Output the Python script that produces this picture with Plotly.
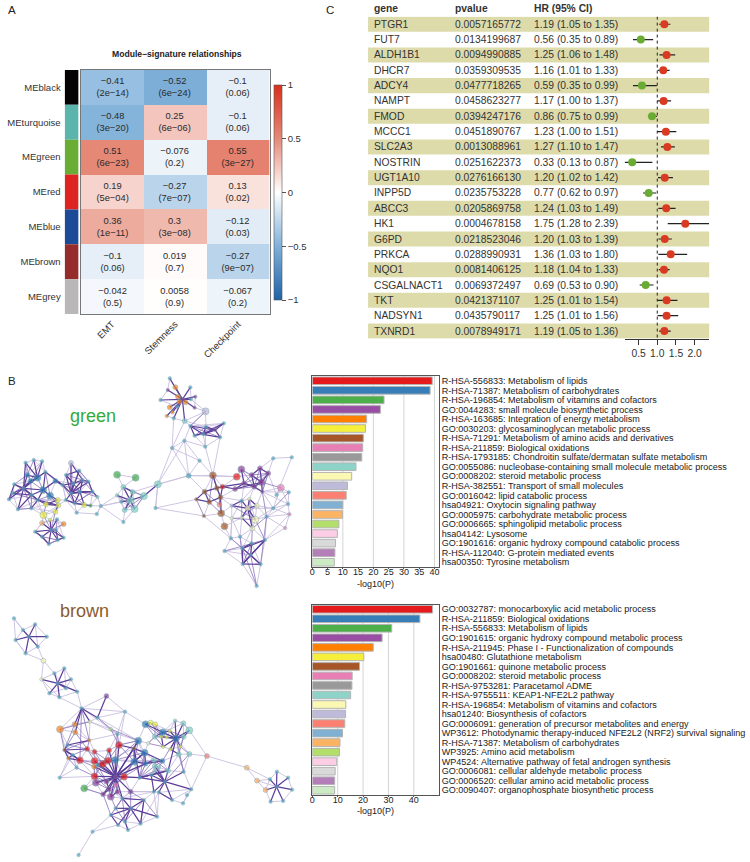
"""Composite figure: module heatmap, Cox forest table, enrichment networks and bars."""
import plotly.graph_objects as go

WIDTH = 750
HEIGHT = 862
FONT = "Liberation Sans"

# ---- panel A
modules = ["MEblack", "MEturquoise", "MEgreen", "MEred", "MEblue", "MEbrown", "MEgrey"]
module_colors = ["#060304", "#5bb5ad", "#69ad34", "#de2420", "#1b4a96", "#952c2b", "#b9b7b8"]
signatures = ["EMT", "Stemness", "Checkpoint"]
corr = [
    [-0.41, -0.52, -0.1],
    [-0.48, 0.25, -0.1],
    [0.51, -0.076, 0.55],
    [0.19, -0.27, 0.13],
    [0.36, 0.3, -0.12],
    [-0.1, 0.019, -0.27],
    [-0.042, 0.0058, -0.067],
]
corr_p = [
    ["2e-14", "6e-24", "0.06"],
    ["3e-20", "6e-06", "0.06"],
    ["6e-23", "0.2", "3e-27"],
    ["5e-04", "7e-07", "0.02"],
    ["1e-11", "3e-08", "0.03"],
    ["0.06", "0.7", "9e-07"],
    ["0.5", "0.9", "0.2"],
]
corr_scale = [
    [0, "#1f62a8"], [0.25, "#80b1da"], [0.5, "#ffffff"], [0.75, "#e68a78"], [1, "#d8301c"],
]
cbar_vals = [1, 0.5, 0, -0.5, -1]
cbar_text = ["1", "0.5", "0", "\u22120.5", "\u22121"]

# ---- panel C
genes = ["PTGR1", "FUT7", "ALDH1B1", "DHCR7", "ADCY4", "NAMPT", "FMOD", "MCCC1", "SLC2A3", "NOSTRIN",
         "UGT1A10", "INPP5D", "ABCC3", "HK1", "G6PD", "PRKCA", "NQO1", "CSGALNACT1", "TKT", "NADSYN1", "TXNRD1"]
pvalues = ["0.0057165772", "0.0134199687", "0.0094990885", "0.0359309535", "0.0477718265", "0.0458623277",
           "0.0394247176", "0.0451890767", "0.0013088961", "0.0251622373", "0.0276166130", "0.0235753228",
           "0.0205869758", "0.0004678158", "0.0218523046", "0.0288990931", "0.0081406125", "0.0069372497",
           "0.0421371107", "0.0435790117", "0.0078949171"]
hr = [1.19, 0.56, 1.25, 1.16, 0.59, 1.17, 0.86, 1.23, 1.27, 0.33, 1.20,
      0.77, 1.24, 1.75, 1.20, 1.36, 1.18, 0.69, 1.25, 1.25, 1.19]
hr_lo = [1.05, 0.35, 1.06, 1.01, 0.35, 1.00, 0.75, 1.00, 1.10, 0.13, 1.02,
         0.62, 1.03, 1.28, 1.03, 1.03, 1.04, 0.53, 1.01, 1.01, 1.05]
hr_hi = [1.35, 0.89, 1.48, 1.33, 0.99, 1.37, 0.99, 1.51, 1.47, 0.87, 1.42,
         0.97, 1.49, 2.39, 1.39, 1.80, 1.33, 0.90, 1.54, 1.56, 1.36]

# ---- panel B, bar charts
bar_colors = ["#e41a1c", "#377eb8", "#4daf4a", "#984ea3", "#ff7f00", "#f5ee3a", "#a65628", "#e77fb5", "#999999",
              "#8dd3c7", "#fbf8b3", "#bebada", "#fb8072", "#80b1d3", "#fdb462", "#b3de69", "#fccde5", "#d9d9d9",
              "#b47fb8", "#ccebc5"]
green_terms = [
    "R-HSA-556833: Metabolism of lipids",
    "R-HSA-71387: Metabolism of carbohydrates",
    "R-HSA-196854: Metabolism of vitamins and cofactors",
    "GO:0044283: small molecule biosynthetic process",
    "R-HSA-163685: Integration of energy metabolism",
    "GO:0030203: glycosaminoglycan metabolic process",
    "R-HSA-71291: Metabolism of amino acids and derivatives",
    "R-HSA-211859: Biological oxidations",
    "R-HSA-1793185: Chondroitin sulfate/dermatan sulfate metabolism",
    "GO:0055086: nucleobase-containing small molecule metabolic process",
    "GO:0008202: steroid metabolic process",
    "R-HSA-382551: Transport of small molecules",
    "GO:0016042: lipid catabolic process",
    "hsa04921: Oxytocin signaling pathway",
    "GO:0005975: carbohydrate metabolic process",
    "GO:0006665: sphingolipid metabolic process",
    "hsa04142: Lysosome",
    "GO:1901616: organic hydroxy compound catabolic process",
    "R-HSA-112040: G-protein mediated events",
    "hsa00350: Tyrosine metabolism",
]
green_logp = [39.3, 38.6, 23.5, 22.3, 17.8, 17.4, 16.7, 16.5, 16.2, 14.3,
              12.9, 11.5, 11.1, 10.0, 9.9, 8.7, 8.2, 7.6, 7.4, 7.2]
brown_terms = [
    "GO:0032787: monocarboxylic acid metabolic process",
    "R-HSA-211859: Biological oxidations",
    "R-HSA-556833: Metabolism of lipids",
    "GO:1901615: organic hydroxy compound metabolic process",
    "R-HSA-211945: Phase I - Functionalization of compounds",
    "hsa00480: Glutathione metabolism",
    "GO:1901661: quinone metabolic process",
    "GO:0008202: steroid metabolic process",
    "R-HSA-9753281: Paracetamol ADME",
    "R-HSA-9755511: KEAP1-NFE2L2 pathway",
    "R-HSA-196854: Metabolism of vitamins and cofactors",
    "hsa01240: Biosynthesis of cofactors",
    "GO:0006091: generation of precursor metabolites and energy",
    "WP3612: Photodynamic therapy-induced NFE2L2 (NRF2) survival signaling",
    "R-HSA-71387: Metabolism of carbohydrates",
    "WP3925: Amino acid metabolism",
    "WP4524: Alternative pathway of fetal androgen synthesis",
    "GO:0006081: cellular aldehyde metabolic process",
    "GO:0006520: cellular amino acid metabolic process",
    "GO:0090407: organophosphate biosynthetic process",
]
brown_logp = [47.4, 42.4, 31.3, 27.5, 24.0, 20.3, 18.6, 15.7, 15.6, 15.1,
              13.2, 13.1, 12.8, 11.9, 10.9, 10.7, 9.6, 9.0, 8.8, 8.8]

# ---- panel B, networks (layout units)
node_palette = {"r": "#e41a1c", "b": "#2f7db5", "g": "#3fa648", "p": "#8f3f98", "o": "#f5831f", "y": "#f3ee38",
                "n": "#a65628", "k": "#e77fb5", "t": "#7fcfc3", "l": "#f7f5ae", "v": "#b9b5d8", "s": "#f47f70",
                "q": "#f9ad5e", "h": "#b3de69"}
default_node = "#4ea5bf"

green_x = [503, 520, 565, 497, 528, 475, 532, 551, 567, 580,
           503, 511, 494, 525, 515, 578, 548, 611, 565, 578,
           612, 666, 604, 655, 610, 547, 510, 593, 560, 541,
           640, 68, 93, 118, 73, 104, 128, 83, 158, 34,
           121, 142, 62, 18, 45, 30, 86, 105, 130, 165,
           167, 85, 158, 122, 142, 118, 163, 183, 97, 160,
           145, 183, 165, 138, 118, 205, 190, 230, 258, 240,
           212, 180, 205, 232, 270, 285, 245, 264, 222, 283,
           295, 190, 216, 344, 400, 363, 391, 344, 384, 425,
           357, 367, 397, 363, 467, 460, 633, 645, 662, 705,
           719, 700, 727, 750, 775, 800, 758, 780, 782, 838,
           815, 871, 862, 864, 851, 608, 583, 622, 656, 653,
           658, 606, 668, 690, 743, 738, 765, 720, 720, 761,
           752, 690, 815, 795, 860, 790, 750, 687, 668, 722,
           747, 723, 777, 765, 715, 825]
green_y = [115, 142, 142, 150, 170, 180, 185, 187, 178, 170,
           202, 217, 228, 200, 235, 203, 243, 214, 258, 287,
           260, 250, 283, 292, 320, 302, 324, 362, 407, 178,
           270, 368, 360, 364, 405, 413, 396, 423, 423, 433,
           450, 467, 445, 478, 508, 460, 465, 480, 493, 480,
           496, 505, 515, 525, 540, 549, 538, 552, 575, 570,
           570, 593, 600, 612, 590, 369, 405, 392, 425, 420,
           430, 435, 460, 455, 455, 471, 495, 497, 518, 522,
           498, 480, 490, 404, 413, 441, 456, 466, 481, 468,
           485, 510, 507, 546, 433, 504, 406, 444, 440, 410,
           388, 447, 430, 405, 385, 400, 440, 427, 455, 443,
           355, 352, 457, 523, 564, 455, 478, 486, 472, 494,
           520, 528, 559, 497, 477, 505, 497, 482, 533, 539,
           565, 535, 505, 530, 492, 600, 610, 595, 633, 625,
           645, 672, 673, 738, 590, 465]
green_groups = {
    "o": [1, 4, 6, 7, 10, 11, 12, 57], "p": [3, 9, 15, 29, 30, 100, 101, 102, 103, 104, 105, 106, 107, 108],
    "b": [34, 35, 37, 38, 40, 41], "y": [48, 49, 50, 52, 53, 54, 76], "q": [55], "v": [17, 65, 123],
    "g": [83, 84, 77], "t": [16, 85, 86, 87, 88, 89, 91, 92, 94, 75],
    "n": [96, 97, 115, 116, 117, 118, 120, 121, 122], "r": [98, 99], "k": [109, 113, 114], "s": [119],
    "l": [124, 125, 126, 128, 129, 130, 131],
}
green_medium = [1, 4, 6, 7, 10, 16, 28, 34, 37, 38, 48, 49, 50, 52, 55, 57, 65, 76, 85, 86, 91,
                97, 98, 101, 102, 103, 104, 105, 106, 115, 117, 118, 119, 125, 126, 130]
green_large = [17, 35, 40, 41, 53, 83, 84, 88, 89, 92, 94, 96, 99, 100, 107, 109, 120, 122, 129]
green_dark = [(29, 0), (29, 1), (29, 2), (29, 3), (29, 4), (29, 5), (29, 6), (29, 7), (29, 8), (29, 9), (29, 10),
              (29, 11), (29, 12), (29, 13), (29, 14), (29, 15), (29, 16), (30, 18), (30, 20), (30, 21), (30, 22),
              (30, 23), (30, 19), (18, 22), (32, 35), (33, 35), (31, 35), (36, 35), (37, 42), (35, 42), (42, 39),
              (42, 43), (42, 45), (42, 44), (42, 46), (40, 42), (40, 47), (47, 46), (47, 48), (40, 36), (40, 38),
              (48, 49), (47, 50), (50, 52), (60, 58), (60, 59), (60, 61), (60, 62), (60, 63), (60, 64), (60, 56),
              (60, 54), (72, 65), (72, 66), (72, 67), (72, 69), (72, 70), (72, 71), (72, 73), (72, 74), (72, 81),
              (72, 82), (72, 68), (74, 75), (73, 76), (82, 77), (71, 38), (71, 36), (88, 85), (88, 86), (88, 87),
              (88, 89), (88, 91), (88, 92), (88, 90), (86, 85), (98, 101), (101, 102), (102, 106), (106, 107),
              (107, 104), (107, 105), (106, 103), (103, 104), (97, 98), (97, 115), (118, 98), (115, 116), (115, 117),
              (117, 118), (101, 107), (107, 108), (125, 124), (125, 127), (125, 126), (125, 128), (125, 123),
              (125, 130), (125, 129), (141, 140), (141, 139), (141, 142), (140, 136), (140, 135), (94, 89),
              (42, 34), (42, 37), (42, 31), (42, 47), (35, 37), (35, 34), (46, 40), (40, 41), (41, 49), (43, 39),
              (45, 46), (44, 46), (51, 47), (50, 48), (60, 55), (59, 62), (61, 62), (63, 64), (58, 64),
              (70, 66), (70, 69), (70, 71), (73, 69), (73, 74), (73, 82), (81, 82), (66, 67), (68, 69), (74, 68),
              (65, 69), (106, 102), (103, 107), (105, 104), (108, 106), (100, 102), (98, 102), (118, 119), (116, 117),
              (118, 120), (97, 118), (97, 96), (126, 124), (127, 123), (128, 130), (141, 135), (136, 139), (140, 142),
              (139, 142), (135, 139), (20, 22), (22, 23), (18, 19), (21, 22)]
green_light = [(16, 17), (17, 20), (18, 17), (16, 18), (18, 20), (20, 21), (21, 23), (20, 24), (22, 24), (23, 24),
               (25, 18), (25, 26), (25, 27), (25, 24), (26, 27), (27, 28), (26, 28), (25, 28), (16, 26), (14, 26),
               (5, 13), (12, 14), (14, 16), (24, 96), (27, 96), (23, 96), (26, 94), (28, 94), (25, 94), (28, 96),
               (94, 95), (28, 115), (28, 99), (31, 32), (32, 33), (33, 36), (31, 34), (34, 35), (34, 37), (37, 39),
               (39, 45), (45, 43), (43, 44), (44, 51), (51, 46), (46, 47), (36, 38), (38, 41), (41, 40), (41, 48),
               (41, 49), (49, 50), (50, 53), (53, 52), (52, 54), (54, 55), (55, 56), (56, 57), (53, 55), (48, 51),
               (47, 51), (51, 53), (58, 55), (58, 64), (64, 63), (63, 62), (62, 61), (61, 59), (59, 57), (57, 54),
               (38, 71), (49, 81), (50, 81), (81, 82), (82, 76), (76, 78), (76, 77), (77, 80), (78, 79), (79, 80),
               (80, 75), (75, 74), (74, 68), (68, 67), (67, 65), (65, 66), (66, 71), (69, 68), (70, 66), (69, 73),
               (73, 74), (81, 71), (80, 90), (80, 87), (80, 88), (80, 93), (91, 93), (92, 93), (92, 89), (89, 86),
               (85, 87), (87, 90), (90, 91), (83, 84), (83, 85), (84, 85), (89, 94), (86, 94), (94, 95), (94, 28),
               (95, 116), (95, 121), (96, 97), (96, 115), (96, 99), (99, 98), (99, 100), (100, 103), (104, 105),
               (105, 110), (110, 111), (110, 104), (111, 145), (105, 145), (145, 109), (109, 112), (112, 134),
               (134, 113), (113, 114), (114, 133), (133, 132), (132, 134), (132, 109), (108, 109), (108, 132),
               (108, 126), (126, 129), (129, 133), (129, 130), (130, 135), (133, 135), (135, 142), (142, 141),
               (135, 136), (136, 139), (139, 144), (144, 137), (137, 138), (138, 141), (141, 143), (142, 143),
               (138, 139), (137, 131), (131, 128), (128, 122), (122, 120), (120, 119), (119, 118), (118, 123),
               (123, 127), (127, 124), (124, 126), (121, 120), (121, 137), (121, 117), (116, 117), (120, 131),
               (122, 137), (130, 144), (144, 136), (136, 140), (139, 140), (124, 106), (102, 127),
               (34, 33), (32, 36), (39, 42), (44, 45), (43, 46), (44, 47), (51, 52), (47, 53), (46, 53), (48, 50),
               (49, 52), (54, 60), (55, 58), (56, 61), (53, 54), (62, 64), (38, 70), (38, 72), (71, 81), (81, 78),
               (82, 78), (70, 73), (67, 69), (67, 70), (65, 70), (68, 73), (74, 77), (75, 77), (76, 82), (80, 79),
               (108, 112), (108, 134), (105, 108), (104, 108), (109, 134), (126, 132), (126, 133), (129, 132),
               (125, 132), (127, 131), (123, 131), (131, 137), (128, 144), (130, 139), (131, 144), (133, 134),
               (133, 113), (132, 113), (135, 114), (135, 113), (135, 140), (136, 142), (138, 140), (137, 139),
               (127, 106), (124, 129), (120, 123), (118, 127), (102, 108), (101, 118), (96, 98), (99, 103),
               (85, 86), (86, 92), (86, 89), (90, 92), (85, 90), (87, 91), (91, 92), (2, 8), (0, 3), (3, 5),
               (9, 15), (15, 17), (8, 17), (16, 20), (19, 22), (19, 24), (18, 21), (23, 30)]
green_fine = [(31, 37), (32, 34), (33, 37), (36, 37), (34, 39), (37, 45), (39, 46), (43, 45), (44, 51), (45, 47),
              (46, 51), (42, 51), (37, 46), (37, 40), (35, 40), (36, 41), (38, 40), (41, 47), (41, 50), (47, 49),
              (48, 53), (52, 60), (53, 60), (55, 60), (56, 59), (57, 60), (58, 63), (59, 61), (61, 63), (62, 63),
              (64, 62), (66, 73), (66, 69), (67, 68), (69, 74), (70, 73), (71, 73), (71, 82), (72, 76), (73, 75),
              (74, 82), (81, 76), (82, 74), (68, 70), (85, 92), (86, 91), (87, 92), (89, 92), (89, 91), (85, 89),
              (96, 118), (96, 117), (98, 115), (115, 119), (116, 121), (117, 120), (100, 107), (100, 106), (101, 106),
              (102, 103), (102, 105), (104, 106), (105, 106), (105, 108), (103, 105), (107, 109), (108, 133),
              (124, 130), (126, 128), (127, 128), (123, 129), (129, 131), (135, 129), (133, 130), (130, 136),
              (136, 141), (135, 138), (137, 140), (144, 141), (139, 143), (140, 143), (112, 132), (133, 142),
              (17, 18), (18, 23), (20, 19), (21, 19)]

brown_x = [33, 60, 97, 78, 132, 38, 68, 105, 122, 155,
           185, 205, 116, 165, 140, 170, 224, 190, 312, 237,
           262, 285, 216, 172, 218, 260, 368, 325, 345, 350,
           254, 276, 320, 232, 276, 301, 316, 276, 365, 275,
           338, 396, 408, 427, 430, 430, 482, 522, 481, 445,
           459, 478, 494, 503, 483, 505, 535, 438, 544, 562,
           545, 530, 562, 458, 519, 498, 455, 458, 470, 458,
           615, 735, 766, 792, 826, 860, 872, 845, 807, 825,
           805, 340, 280, 312, 340, 320, 302, 325, 385, 345,
           245, 171, 197, 185, 222, 195, 210, 395, 488, 545,
           412, 455, 510, 543, 568, 555, 470, 447, 360, 340,
           385, 325, 347, 368, 415, 377, 465, 425, 270, 228,
           285]
brown_y = [70, 105, 88, 125, 125, 135, 175, 155, 197, 235,
           220, 253, 253, 265, 295, 307, 290, 280, 303, 340,
           380, 368, 388, 403, 412, 436, 350, 402, 417, 450,
           462, 470, 466, 496, 498, 507, 497, 544, 545, 515,
           495, 500, 437, 473, 506, 388, 412, 430, 498, 383,
           388, 425, 427, 408, 455, 463, 455, 445, 385, 406,
           425, 478, 477, 425, 377, 527, 495, 513, 517, 528,
           483, 518, 557, 585, 530, 548, 584, 618, 620, 575,
           553, 545, 563, 560, 570, 583, 598, 605, 590, 590,
           580, 548, 490, 465, 518, 450, 480, 460, 560, 530,
           548, 590, 615, 625, 583, 600, 592, 540, 610, 640,
           640, 660, 690, 680, 686, 705, 665, 615, 710, 780,
           510]
brown_groups = {
    "l": [8, 12, 20, 57], "p": [18, 81, 82, 83, 85, 86, 87, 88, 89],
    "o": [22, 23, 24, 25, 39, 92], "h": [27],
    "r": [29, 30, 31, 32, 33, 34, 35, 36, 37, 38], "b": [40, 41, 42, 43, 44, 45, 46, 47, 48],
    "t": [58, 59, 60, 61, 62, 63, 64, 65, 66, 67, 68, 69], "s": [70], "q": [71, 72, 73], "k": [84],
    "g": [90], "n": [93, 97], "y": [49, 50, 51, 52, 53, 54, 55, 56],
}
brown_medium = [8, 18, 22, 24, 30, 31, 32, 39, 44, 48, 49, 50, 58, 60, 61, 62, 71, 72, 73, 70,
                83, 85, 86, 88, 89, 84, 63, 65, 66, 67]
brown_large = [23, 29, 33, 34, 35, 36, 37, 38, 40, 41, 42, 43, 45, 46, 47, 59, 82, 87, 90]
brown_dark = [(3, 1), (3, 2), (3, 4), (3, 5), (3, 6), (3, 7), (13, 9), (13, 10), (13, 11), (13, 12), (13, 14),
              (13, 15), (13, 16), (13, 17), (81, 35), (81, 36), (81, 37), (81, 38), (81, 39), (81, 40), (81, 82),
              (81, 83), (81, 84), (81, 85), (81, 86), (81, 87), (81, 88), (81, 89), (81, 41), (81, 44), (81, 97),
              (81, 34), (81, 108), (98, 99), (98, 100), (98, 101), (98, 102), (98, 104), (98, 106), (98, 107),
              (98, 65), (47, 51), (47, 52), (47, 53), (47, 54), (47, 55), (47, 56), (47, 58), (47, 59), (47, 60),
              (47, 64), (47, 46), (46, 45), (45, 49), (46, 63), (79, 74), (79, 75), (79, 76), (79, 77), (79, 78),
              (79, 80), (79, 73), (110, 108), (110, 109), (110, 111), (110, 112), (110, 113), (110, 114), (110, 116),
              (110, 117), (19, 21), (19, 22), (19, 24), (19, 20), (21, 18), (93, 95), (93, 96), (93, 92), (93, 30),
              (93, 33), (97, 29), (97, 43), (97, 42), (41, 44), (43, 44), (44, 48),
              (81, 32), (81, 29), (81, 43), (81, 100), (81, 120), (81, 42), (41, 43), (97, 41), (43, 48), (44, 66),
              (97, 100), (100, 107), (107, 65), (100, 65), (98, 67), (98, 69), (106, 102), (101, 107),
              (47, 65), (55, 61), (51, 54), (46, 53), (46, 51), (60, 59), (96, 33), (96, 92), (95, 25), (92, 33),
              (120, 36), (120, 39), (83, 85), (85, 86), (87, 89), (108, 117), (111, 112), (113, 115), (114, 117)]
brown_light = [(0, 1), (0, 5), (1, 2), (2, 4), (4, 7), (7, 6), (6, 5), (5, 1), (6, 8), (7, 8), (8, 9), (8, 12),
               (9, 10), (10, 11), (11, 16), (12, 14), (14, 15), (15, 16), (16, 19), (15, 19), (9, 12), (19, 26),
               (18, 19), (20, 21), (21, 26), (26, 45), (26, 28), (27, 28), (20, 28), (21, 42), (28, 42), (42, 45),
               (19, 23), (23, 22), (23, 24), (24, 25), (25, 20), (22, 20), (23, 95), (25, 31), (31, 30), (30, 33),
               (33, 34), (34, 35), (35, 36), (36, 40), (31, 32), (32, 29), (29, 40), (40, 41), (41, 43), (43, 44),
               (44, 48), (48, 66), (66, 67), (67, 69), (69, 68), (68, 65), (65, 61), (61, 62), (62, 70), (70, 71),
               (71, 72), (72, 73), (72, 80), (71, 80), (70, 59), (59, 60), (60, 58), (58, 64), (64, 53), (53, 50),
               (50, 49), (49, 45), (51, 52), (52, 53), (54, 55), (55, 56), (56, 61), (54, 63), (57, 43), (57, 63),
               (42, 57), (70, 104), (94, 33), (94, 96), (91, 94), (91, 92), (91, 37), (90, 37), (90, 82), (82, 86),
               (86, 87), (87, 85), (85, 84), (83, 84), (82, 83), (87, 108), (88, 108), (108, 117), (117, 101),
               (101, 106), (106, 102), (102, 103), (103, 104), (104, 105), (99, 104), (99, 65), (107, 100), (100, 88),
               (88, 101), (107, 67), (109, 111), (111, 112), (112, 115), (115, 113), (113, 114), (114, 116), (116, 106),
               (109, 108), (118, 111), (118, 119), (115, 114), (39, 37), (39, 34), (38, 41), (38, 100), (120, 35),
               (120, 34), (28, 32), (26, 29), (41, 66), (100, 44), (29, 42), (38, 88), (43, 48), (42, 43), (36, 97),
               (1, 3), (5, 6), (2, 7), (0, 3), (9, 17), (10, 17), (12, 15), (11, 17), (14, 17), (20, 27), (25, 28),
               (24, 22), (21, 28), (18, 26), (19, 28), (22, 25), (23, 92), (95, 92), (96, 94), (91, 96), (33, 37),
               (34, 37), (31, 34), (32, 36), (29, 32), (35, 39), (36, 120), (40, 44), (40, 48), (41, 48), (41, 100),
               (42, 44), (43, 66), (45, 50), (46, 50), (46, 64), (46, 58), (47, 61), (47, 62), (51, 63), (48, 61),
               (48, 65), (66, 69), (65, 69), (68, 98), (107, 69), (101, 88), (101, 108), (102, 104), (103, 105),
               (106, 104), (99, 62), (114, 106), (116, 101), (117, 110), (108, 88), (112, 118), (86, 90), (85, 108),
               (89, 108), (84, 89), (88, 89), (38, 84), (38, 40), (37, 82), (39, 82), (74, 80), (74, 75), (75, 76),
               (76, 77), (77, 78), (78, 73), (73, 80), (79, 72)]
brown_fine = [(30, 34), (30, 35), (31, 35), (31, 36), (32, 35), (33, 35), (33, 39), (34, 36), (37, 39), (35, 37),
              (35, 40), (29, 36), (29, 41), (38, 82), (38, 83), (38, 85), (37, 83), (37, 85), (39, 83), (120, 82),
              (120, 83), (120, 40), (41, 84), (41, 83), (41, 38), (44, 38), (44, 100), (43, 100), (42, 29), (42, 41),
              (42, 40), (43, 40), (28, 29), (28, 40), (27, 29), (97, 44), (66, 100), (67, 100), (69, 100), (66, 48),
              (67, 48), (68, 48), (65, 107), (65, 66), (98, 66), (98, 62), (99, 61), (99, 47), (47, 48), (47, 63),
              (63, 54), (63, 57), (57, 54), (45, 63), (45, 51), (49, 51), (50, 51), (50, 63), (58, 59), (53, 60),
              (53, 47), (60, 56), (56, 62), (61, 60), (108, 109), (108, 111), (109, 113), (108, 113), (111, 113),
              (117, 113), (117, 114), (116, 117), (88, 110), (88, 117), (87, 109), (86, 111), (85, 87), (84, 87),
              (89, 110), (82, 85), (90, 86), (19, 25), (20, 23), (19, 33), (22, 93), (23, 93), (24, 93), (25, 93),
              (92, 94), (94, 37), (96, 30), (95, 30), (24, 30), (25, 30), (21, 27), (27, 42)]


def px_x(x):
    return x / WIDTH


def px_y(y):
    return 1 - y / HEIGHT


def edge_xy(xs, ys, pairs):
    ex, ey = [], []
    for a, b in pairs:
        ex += [xs[a], xs[b], None]
        ey += [ys[a], ys[b], None]
    return ex, ey


fig = go.Figure()
annotations = []
shapes = []

# heatmap with the module colour strip
fig.add_trace(go.Heatmap(
    z=corr, x=signatures, y=modules,
    text=[[f"{v:g}".replace("-", "\u2212") + "<br>(" + p.replace("-", "\u2212") + ")"
           for v, p in zip(rv, rp)] for rv, rp in zip(corr, corr_p)],
    texttemplate="%{text}", textfont=dict(size=9.3, color="#2a2a2a", family=FONT),
    colorscale=corr_scale, zmin=-1, zmax=1, hoverinfo="skip",
    colorbar=dict(
        x=px_x(272), xanchor="left", y=px_y(192.5), yanchor="middle", len=215 / HEIGHT, thickness=8,
        xpad=0, ypad=0, tickvals=cbar_vals, ticktext=cbar_text, ticks="outside", ticklen=4,
        tickcolor="#555", outlinecolor="#555", outlinewidth=0.6, tickfont=dict(size=9.5, color="#333", family=FONT),
    ),
    xaxis="x", yaxis="y",
))
fig.add_trace(go.Bar(
    y=modules, x=[1] * len(modules), orientation="h", width=1,
    marker=dict(color=module_colors, line=dict(width=0)), hoverinfo="skip",
    xaxis="x2", yaxis="y2",
))

# forest plot
fig.add_trace(go.Scatter(
    x=hr, y=list(range(len(genes))), mode="markers", cliponaxis=False,
    marker=dict(size=8, color=["#d93a22" if v > 1 else "#6aab34" for v in hr]),
    error_x=dict(type="data", symmetric=False,
                 array=[h - v for h, v in zip(hr_hi, hr)], arrayminus=[v - l for v, l in zip(hr, hr_lo)],
                 width=0, thickness=1.2, color="#222"),
    hoverinfo="skip", xaxis="x3", yaxis="y3",
))
for i in range(0, len(genes), 2):
    shapes.append(dict(type="rect", xref="paper", yref="y3", x0=px_x(367), x1=px_x(710), y0=i - 0.49, y1=i + 0.49,
                       fillcolor="#dedbab", line_width=0, layer="below"))
shapes.append(dict(type="line", xref="x3", yref="y3", x0=1, x1=1, y0=-0.5, y1=len(genes) - 0.5,
                   line=dict(color="#222", width=1, dash="3px,3px")))
for head, xp in [("gene", 371), ("pvalue", 452.3), ("HR (95% CI)", 532.3)]:
    annotations.append(dict(text=f"<b>{head}</b>", xref="paper", yref="paper", x=px_x(xp), y=px_y(8), xanchor="left",
                            yanchor="middle", showarrow=False, font=dict(size=10.3, color="#333", family=FONT)))
for i, gene in enumerate(genes):
    cols = [(gene, 371), (pvalues[i], 452.3), (f"{hr[i]:.2f} ({hr_lo[i]:.2f} to {hr_hi[i]:.2f})", 532.3)]
    for txt, xp in cols:
        annotations.append(dict(text=txt, xref="paper", yref="y3", x=px_x(xp), y=i, xanchor="left", yanchor="middle",
                                showarrow=False, font=dict(size=10.3, color="#333", family=FONT)))

# enrichment bars
for terms, logp, xa, ya in [(green_terms, green_logp, "x4", "y4"), (brown_terms, brown_logp, "x5", "y5")]:
    fig.add_trace(go.Bar(
        y=terms, x=logp, orientation="h", width=0.8,
        marker=dict(color=bar_colors, line=dict(color="#b4b4b4", width=1)),
        hoverinfo="skip", xaxis=xa, yaxis=ya,
    ))
for xa, ya, grid in [("x4", "y4", [10, 20, 30, 40]), ("x5", "y5", [10, 20, 30, 40])]:
    for g in grid:
        shapes.append(dict(type="line", xref=xa, yref=f"{ya} domain", x0=g, x1=g, y0=0, y1=1,
                           line=dict(color="#d4d4d4", width=1), layer="below"))

# networks
nets = [
    (green_x, green_y, green_groups, green_medium, green_large, green_light, green_fine, green_dark, "x6", "y6"),
    (brown_x, brown_y, brown_groups, brown_medium, brown_large, brown_light, brown_fine, brown_dark, "x7", "y7"),
]
for xs, ys, groups, medium, large, light, fine, dark, xa, ya in nets:
    for pairs, color, lw in [(light, "#c9bfe0", 0.9), (fine, "#8a74bb", 0.8), (dark, "#5b3c98", 1.2)]:
        ex, ey = edge_xy(xs, ys, pairs)
        fig.add_trace(go.Scatter(x=ex, y=ey, mode="lines", line=dict(color=color, width=lw), hoverinfo="skip",
                                 xaxis=xa, yaxis=ya))
    colors = [default_node] * len(xs)
    for key, members in groups.items():
        for m in members:
            colors[m] = node_palette[key]
    sizes = [3.5] * len(xs)
    for m in medium:
        sizes[m] = 5
    for m in large:
        sizes[m] = 7
    fig.add_trace(go.Scatter(
        x=xs, y=ys, mode="markers",
        marker=dict(color=colors, size=sizes, line=dict(color="#6fa0a8", width=0.6)),
        hoverinfo="skip", xaxis=xa, yaxis=ya,
    ))

# panel letters and network names
for txt, xp, yp, size, color in [("A", 9, 10, 11.5, "#222"), ("C", 329, 10, 11.5, "#222"), ("B", 9, 381, 11.5, "#222"),
                                 ("green", 90, 416, 18, "#35aa3a"), ("brown", 82, 611, 18, "#8a5a2c")]:
    annotations.append(dict(text=txt, xref="paper", yref="paper", x=px_x(xp), y=px_y(yp), xanchor="center",
                            yanchor="middle", showarrow=False, font=dict(size=size, color=color, family=FONT)))
annotations.append(dict(text="<b>Module\u2212signature relationships</b>", xref="paper", yref="paper",
                        x=px_x(175), y=px_y(53.5), xanchor="center", yanchor="middle", showarrow=False,
                        font=dict(size=8.6, color="#222", family=FONT)))
for yp in (583.5, 811):
    annotations.append(dict(text="-log10(P)", xref="paper", yref="paper", x=px_x(374), y=px_y(yp), xanchor="center",
                            yanchor="middle", showarrow=False, font=dict(size=9, color="#222", family=FONT)))


def dom_x(a, b):
    return [px_x(a), px_x(b)]


def dom_y(top, bottom):
    return [px_y(bottom), px_y(top)]


hidden = dict(visible=False, showgrid=False, zeroline=False)
bar_x = dict(showline=True, linecolor="#555", linewidth=1.4, mirror=True, showgrid=False, zeroline=False,
             ticks="outside", ticklen=1, tickcolor="#555", ticklabelstandoff=-5,
             tickfont=dict(size=9, color="#222", family=FONT))
bar_y = dict(side="right", autorange="reversed", showline=True, linecolor="#555", linewidth=1.4, mirror=True,
             showgrid=False, ticks="", dtick=1, ticklabelstandoff=0, tickfont=dict(size=9.05, color="#222", family=FONT))

fig.update_layout(
    width=WIDTH, height=HEIGHT, margin=dict(l=0, r=0, t=0, b=0, pad=0),
    paper_bgcolor="white", plot_bgcolor="rgba(0,0,0,0)", showlegend=False,
    font=dict(family=FONT, color="#222"),
    annotations=annotations, shapes=shapes,
    xaxis=dict(domain=dom_x(78, 268), tickangle=-45, ticks="", showline=True, linecolor="#777", linewidth=1, mirror=True,
               tickfont=dict(size=9.5, color="#333", family=FONT), showgrid=False),
    yaxis=dict(domain=dom_y(70, 314), autorange="reversed", showticklabels=False, ticks="", showline=True,
               linecolor="#777", linewidth=1, mirror=True, showgrid=False),
    xaxis2=dict(domain=dom_x(62, 76), range=[0, 1], anchor="y2", **hidden),
    yaxis2=dict(domain=dom_y(70, 314), anchor="x2", autorange="reversed", ticks="", showgrid=False, showline=False,
                zeroline=False, ticklabelstandoff=3, tickfont=dict(size=9.5, color="#333", family=FONT)),
    xaxis3=dict(domain=dom_x(625, 710), range=[0.128, 2.39], anchor="y3", tickvals=[0.5, 1.0, 1.5, 2.0],
                ticktext=["0.5", "1.0", "1.5", "2.0"], ticks="outside", ticklen=5, tickcolor="#333",
                showline=True, linecolor="#333", linewidth=1, showgrid=False, zeroline=False,
                tickfont=dict(size=10.3, color="#333", family=FONT)),
    yaxis3=dict(domain=dom_y(16.6, 338.7), range=[len(genes) - 0.5, -0.5], anchor="x3", **hidden),
    xaxis4=dict(domain=dom_x(311, 438), range=[0, 41.4], anchor="y4", dtick=5, **bar_x),
    yaxis4=dict(domain=dom_y(376, 567), anchor="x4", **bar_y),
    xaxis5=dict(domain=dom_x(311, 438), range=[0, 49.8], anchor="y5", tickvals=[0, 10, 20, 30, 40], **bar_x),
    yaxis5=dict(domain=dom_y(604.5, 795), anchor="x5", **bar_y),
    xaxis6=dict(domain=dom_x(0, 340), range=[0, 1020], anchor="y6", **hidden),
    yaxis6=dict(domain=dom_y(340, 600), range=[780, 0], anchor="x6", **hidden),
    xaxis7=dict(domain=dom_x(0, 340), range=[0, 1020], anchor="y7", **hidden),
    yaxis7=dict(domain=dom_y(595, 862), range=[801, 0], anchor="x7", **hidden),
)

fig.write_html("out.html", config={"displayModeBar": False},
               post_script="document.body.style.margin='0';document.body.style.overflow='hidden';")
